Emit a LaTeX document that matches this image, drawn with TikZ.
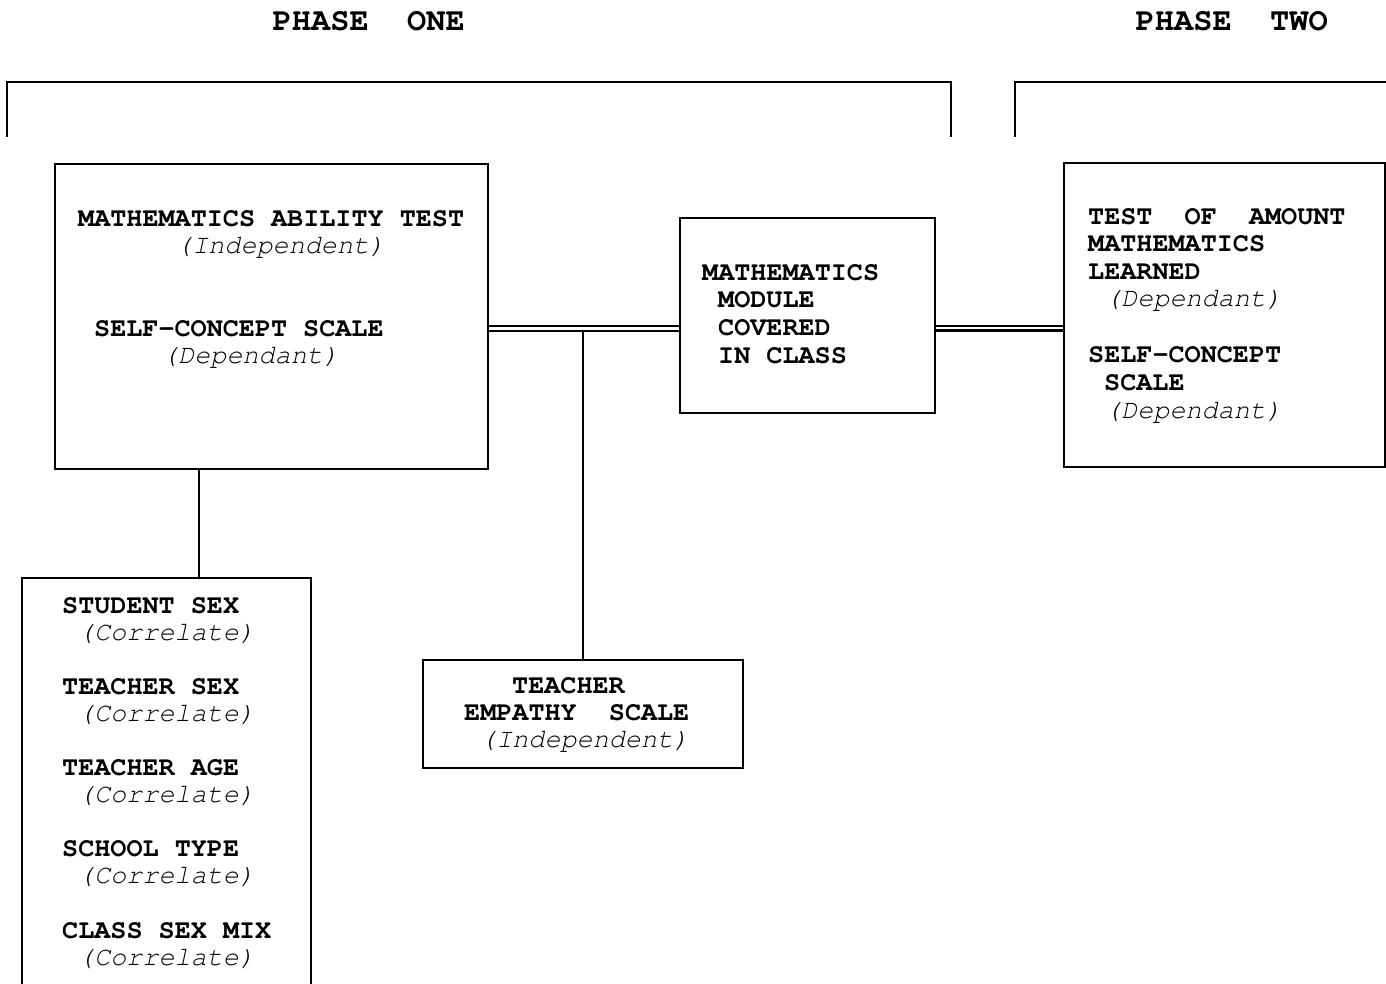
\documentclass[tikz,border=0pt]{standalone}
\usepackage{fontspec}
\newfontfamily\courfam{TeX Gyre Cursor}
\newcommand\lblcap{\courfam\bfseries\fontsize{26.8}{27.5}\selectfont}
\newcommand\lblnote{\courfam\itshape\fontsize{26.8}{27.5}\selectfont}
\newcommand\lblhead{\courfam\bfseries\fontsize{32}{34}\selectfont}
\begin{document}
\begin{tikzpicture}[x=1pt,y=-1pt,
  box/.style={draw, line width=1.8pt, rectangle, inner sep=0pt},
  wire/.style={line width=1.4pt},
  thinrail/.style={line width=1.3pt},
  thickrail/.style={line width=2.2pt},
  bracket/.style={line width=1.6pt},
  titletext/.style={anchor=base west, inner sep=0pt, font=\lblcap},
  roletext/.style={anchor=base west, inner sep=0pt, font=\lblnote},
  phasetext/.style={anchor=base west, inner sep=0pt, font=\lblhead}]
\useasboundingbox[fill=white] (0,0) rectangle (1386,983);

% phase headings and their brackets
\node[phasetext] (h1) at (272.5,30.5) {PHASE~~ONE};
\node[phasetext] (h2) at (1135.5,30.5) {PHASE~~TWO};
\draw[bracket] (7,137) -- (7,82) -- (951,82) -- (951,137);
\draw[bracket] (1015,137) -- (1015,82) -- (1392,82);

% boxes
\node[box, minimum width=433pt, minimum height=305pt] (b1) at (271.5,316.5) {};
\node[box, minimum width=255pt, minimum height=195pt] (b2) at (807.5,315.5) {};
\node[box, minimum width=321pt, minimum height=304pt] (b3) at (1224.5,315) {};
\node[box, minimum width=289pt, minimum height=422pt] (b4) at (166.5,789) {};
\node[box, minimum width=320pt, minimum height=108pt] (b5) at (583,714) {};

% connectors
\coordinate (ya) at (0,326);
\coordinate (yb) at (0,331);
\coordinate (yc) at (0,330.5);
\coordinate (xv) at (199,0);
\draw[thinrail]  (b1.east |- ya) -- (b2.west |- ya);
\draw[thickrail] (b1.east |- yb) -- (b2.west |- yb);
\draw[thinrail]  (b2.east |- ya) -- (b3.west |- ya);
\draw[thickrail] (b2.east |- yc) -- (b3.west |- yc);
\draw[wire] (b5.north) -- (b5.north |- yb);
\draw[wire] (b1.south -| xv) -- (b4.north -| xv);

% phase one tests
\node[titletext] (t1) at (78,226)    {MATHEMATICS ABILITY TEST};
\node[roletext]  (t2) at (176,253.5) {(Independent)};
\node[titletext] (t3) at (94,336.5)  {SELF-CONCEPT SCALE};
\node[roletext]  (t4) at (162,363)   {(Dependant)};

% treatment
\node[titletext] (m1) at (702,280)   {MATHEMATICS};
\node[titletext] (m2) at (718,307.5) {MODULE};
\node[titletext] (m3) at (718,335)   {COVERED};
\node[titletext] (m4) at (718,363)   {IN CLASS};

% phase two tests
\node[titletext] (p1) at (1088,224.5) {TEST~~OF~~AMOUNT};
\node[titletext] (p2) at (1088,251.5) {MATHEMATICS};
\node[titletext] (p3) at (1088,279)   {LEARNED};
\node[roletext]  (p4) at (1105,306.5) {(Dependant)};
\node[titletext] (p5) at (1088,362.5) {SELF-CONCEPT};
\node[titletext] (p6) at (1104,390.5) {SCALE};
\node[roletext]  (p7) at (1105,418.5) {(Dependant)};

% correlates
\node[titletext] (c1)  at (62,613.5) {STUDENT SEX};
\node[roletext]  (c2)  at (78,640.5) {(Correlate)};
\node[titletext] (c3)  at (62,694.5) {TEACHER SEX};
\node[roletext]  (c4)  at (78,721.5) {(Correlate)};
\node[titletext] (c5)  at (62,775.5) {TEACHER AGE};
\node[roletext]  (c6)  at (78,802.5) {(Correlate)};
\node[titletext] (c7)  at (62,856.5) {SCHOOL TYPE};
\node[roletext]  (c8)  at (78,883.5) {(Correlate)};
\node[titletext] (c9)  at (62,938.5) {CLASS SEX MIX};
\node[roletext]  (c10) at (78,965.5) {(Correlate)};

% teacher empathy
\node[titletext] (e1) at (512,693.5) {TEACHER};
\node[titletext] (e2) at (464,720.5) {EMPATHY~~SCALE};
\node[roletext]  (e3) at (480,747.5) {(Independent)};
\end{tikzpicture}
\end{document}
